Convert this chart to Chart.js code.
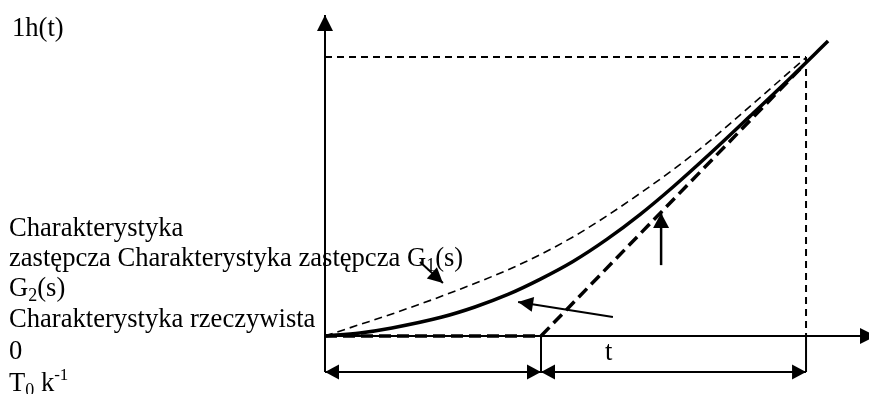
<!DOCTYPE html>
<html><head><meta charset="utf-8">
<script src="https://cdn.jsdelivr.net/npm/chart.js@4/dist/chart.umd.min.js"></script>
<style>html,body{margin:0;padding:0;background:#fff}#wrap{width:869px;height:394px;position:relative}</style>
</head><body><div id="wrap"><canvas id="c"></canvas></div>
<script>
// x in units of T0 (= k^-1), y in units of the reference level
const realX = [0, 0.162, 0.310, 0.542, 0.694, 0.847, 0.995, 1.148, 1.306, 1.458, 1.611, 1.782, 1.968, 2.153, 2.329];
const realY = [0, 0.011, 0.029, 0.068, 0.104, 0.149, 0.203, 0.267, 0.347, 0.435, 0.534, 0.653, 0.788, 0.924, 1.057];
const g1X = [0, 0.153, 0.310, 0.616, 0.926, 1.148, 1.306, 1.458, 1.611, 1.769, 1.921, 2.227];
const g1Y = [0, 0.039, 0.079, 0.165, 0.265, 0.355, 0.431, 0.511, 0.596, 0.691, 0.792, 0.998];
const g2X = [0, 1, 2.213];
const g2Y = [0, 0, 0.968];
const T0 = 1, tEnd = 2.227, level = 1, dimY = -0.129;
const axisXX = [0, 2.551], axisXY = [0, 0];
const axisYX = [0, 0], axisYY = [dimY, 1.1505];
const levelX = [0, tEnd], levelY = [level, level];
const dropX = [tEnd, tEnd], dropY = [level, 0];
const ptrG1X = [0.440, 0.546], ptrG1Y = [0.265, 0.190];
const ptrRealX = [1.333, 0.894], ptrRealY = [0.068, 0.122];
const ptrUpX = [1.556, 1.556], ptrUpY = [0.254, 0.441];

const pts = (xs, ys) => xs.map((x, i) => ({x, y: ys[i]}));
const base = {pointRadius: 0, borderColor: '#000', backgroundColor: '#000', fill: false, showLine: true, tension: 0};

const datasets = [
  {...base, data: pts(axisXX, axisXY), borderWidth: 2, arrow: 'end', arrowLen: 16, arrowHalf: 8},
  {...base, data: pts(axisYX, axisYY), borderWidth: 2, arrow: 'end', arrowLen: 16, arrowHalf: 8},
  {...base, data: pts(levelX, levelY), borderWidth: 2, borderDash: [7, 5]},
  {...base, data: pts(dropX, dropY), borderWidth: 2, borderDash: [7, 5]},
  {...base, data: pts([T0, T0], [0, dimY]), borderWidth: 2},
  {...base, data: pts([tEnd, tEnd], [0, dimY]), borderWidth: 2},
  {...base, data: pts([0, T0], [dimY, dimY]), borderWidth: 2, arrow: 'both', arrowLen: 14, arrowHalf: 7.5},
  {...base, data: pts([T0, tEnd], [dimY, dimY]), borderWidth: 2, arrow: 'both', arrowLen: 14, arrowHalf: 7.5},
  {...base, data: pts(g1X, g1Y), borderWidth: 1.6, borderDash: [8, 5], tension: 0.4, cubicInterpolationMode: 'monotone'},
  {...base, data: pts(g2X, g2Y), borderWidth: 3.5, borderDash: [12, 6]},
  {...base, data: pts(realX, realY), borderWidth: 3.5, tension: 0.4, cubicInterpolationMode: 'monotone'},
  {...base, data: pts(ptrG1X, ptrG1Y), borderWidth: 2, arrow: 'end', arrowLen: 15, arrowHalf: 7.5},
  {...base, data: pts(ptrRealX, ptrRealY), borderWidth: 2, arrow: 'end', arrowLen: 15, arrowHalf: 7.5},
  {...base, data: pts(ptrUpX, ptrUpY), borderWidth: 2.5, arrow: 'end', arrowLen: 15, arrowHalf: 8}
];

const F = '"Liberation Serif", "Times New Roman", serif';
const MAIN = 26.6, SUB = 18;
const labels = [
  {x: 12, y: 36, parts: [{t: '1h(t)'}]},
  {x: 9, y: 236, parts: [{t: 'Charakterystyka'}]},
  {x: 9, y: 266, parts: [{t: 'zastępcza Charakterystyka zastępcza G'}, {t: '1', s: SUB, dy: 5}, {t: '(s)'}]},
  {x: 9, y: 296, parts: [{t: 'G'}, {t: '2', s: SUB, dy: 5}, {t: '(s)'}]},
  {x: 9, y: 327, parts: [{t: 'Charakterystyka rzeczywista'}]},
  {x: 9, y: 359, parts: [{t: '0'}]},
  {x: 9, y: 391, parts: [{t: 'T'}, {t: '0', s: SUB, dy: 5}, {t: ' k'}, {t: '-1', s: 17, dy: -11}]},
  {x: 605, y: 360, parts: [{t: 't'}]}
];

const arrowPlugin = {
  id: 'arrows',
  afterDatasetsDraw(chart) {
    const ctx = chart.ctx;
    chart.data.datasets.forEach((ds, i) => {
      if (!ds.arrow) return;
      const p = chart.getDatasetMeta(i).data, n = p.length;
      const L = ds.arrowLen, W = ds.arrowHalf;
      const head = (tip, from) => {
        const dx = tip.x - from.x, dy = tip.y - from.y, d = Math.hypot(dx, dy);
        const ux = dx / d, uy = dy / d, bx = tip.x - ux * L, by = tip.y - uy * L;
        ctx.beginPath(); ctx.moveTo(tip.x, tip.y);
        ctx.lineTo(bx - uy * W, by + ux * W); ctx.lineTo(bx + uy * W, by - ux * W);
        ctx.closePath(); ctx.fill();
      };
      ctx.save(); ctx.fillStyle = '#000';
      if (ds.arrow === 'end' || ds.arrow === 'both') head(p[n - 1], p[n - 2]);
      if (ds.arrow === 'start' || ds.arrow === 'both') head(p[0], p[1]);
      ctx.restore();
    });
  }
};
const textPlugin = {
  id: 'texts',
  afterDraw(chart) {
    const ctx = chart.ctx;
    ctx.save(); ctx.fillStyle = '#000'; ctx.textBaseline = 'alphabetic'; ctx.textAlign = 'left';
    labels.forEach(l => {
      let x = l.x;
      l.parts.forEach(p => {
        ctx.font = (p.s || MAIN) + 'px ' + F;
        ctx.fillText(p.t, x, l.y + (p.dy || 0));
        x += ctx.measureText(p.t).width;
      });
    });
    ctx.restore();
  }
};

new Chart(document.getElementById('c'), {
  type: 'scatter',
  data: {datasets},
  options: {
    responsive: true, maintainAspectRatio: false, animation: false, devicePixelRatio: 1,
    layout: {padding: 0},
    plugins: {legend: {display: false}, tooltip: {enabled: false}},
    scales: {
      x: {type: 'linear', display: false, min: -1.5046, max: 2.5185},
      y: {type: 'linear', display: false, min: -0.2079, max: 1.2043}
    }
  },
  plugins: [arrowPlugin, textPlugin]
});
</script></body></html>
